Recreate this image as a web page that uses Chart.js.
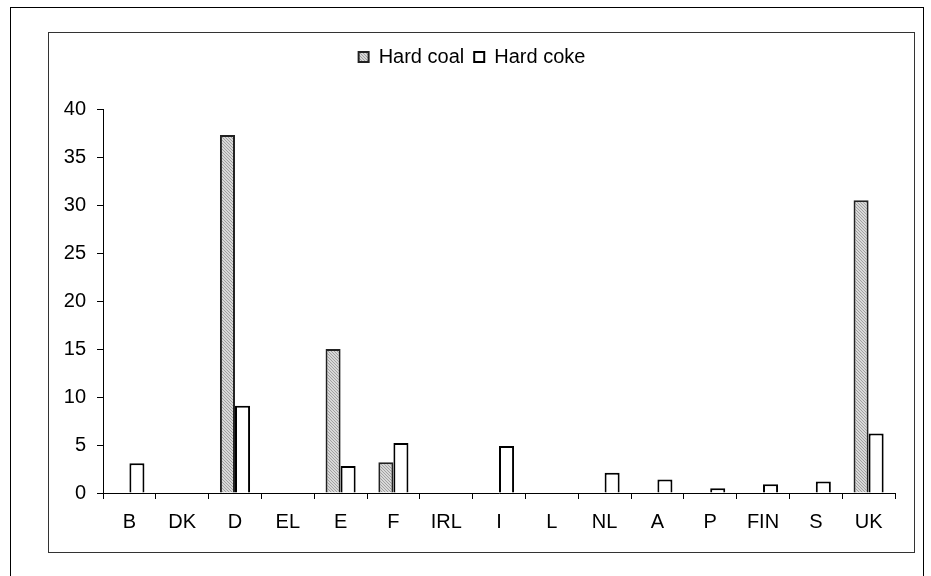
<!DOCTYPE html>
<html>
<head>
<meta charset="utf-8">
<script src="https://cdn.jsdelivr.net/npm/chart.js@4/dist/chart.umd.min.js"></script>
<style>
  html, body { margin: 0; padding: 0; background: #fff; }
  #outer { position: absolute; left: 10px; top: 7px; width: 914px; height: 580px; border: 1px solid #000; box-sizing: border-box; }
  #inner { position: absolute; left: 48px; top: 32px; width: 867px; height: 521px; border: 1px solid #333; box-sizing: border-box; }
  #chart-box { position: absolute; left: 0; top: 0; width: 865px; height: 519px; }
</style>
</head>
<body>
<div id="outer"></div>
<div id="inner"><div id="chart-box"><canvas id="coal-chart"></canvas></div></div>
<script>
const countries = ['B', 'DK', 'D', 'EL', 'E', 'F', 'IRL', 'I', 'L', 'NL', 'A', 'P', 'FIN', 'S', 'UK']
const hardCoal = [null, null, 37.3, null, 15.0, 3.2, null, null, null, null, null, null, null, null, 30.5]
const hardCoke = [3.1, null, 9.1, null, 2.8, 5.2, null, 4.9, null, 2.1, 1.4, 0.5, 0.9, 1.2, 6.2]
const yTicks = [0, 5, 10, 15, 20, 25, 30, 35, 40]

// fine diagonal hatch used by the hard coal bars
function hatch() {
  const c = document.createElement('canvas')
  c.width = 3
  c.height = 3
  const g = c.getContext('2d')
  g.fillStyle = '#d8d8d8'
  g.fillRect(0, 0, 3, 3)
  g.fillStyle = '#a0a0a0'
  for (let i = 0; i < 3; i++) g.fillRect(i, i, 1, 1)
  return g.createPattern(c, 'repeat')
}

// leave a gap between the legend and the top of the plot
const legendGap = {
  id: 'legendGap',
  afterInit(chart) {
    const lg = chart.legend
    const fit = lg.fit.bind(lg)
    lg.fit = function () { fit(); this.height += 32 }
  }
}

const ctx = document.querySelector('#coal-chart').getContext('2d')
const fontSpec = { family: '"Liberation Sans", Arial, sans-serif', size: 20 }

new Chart(ctx, {
  type: 'bar',
  data: {
    labels: countries,
    datasets: [
      {
        label: 'Hard coal',
        data: hardCoal,
        backgroundColor: hatch(),
        borderColor: '#222',
        borderWidth: 2,
        categoryPercentage: 0.57,
        barPercentage: 1
      },
      {
        label: 'Hard coke',
        data: hardCoke,
        backgroundColor: '#fff',
        borderColor: '#000',
        borderWidth: 2,
        categoryPercentage: 0.57,
        barPercentage: 1
      }
    ]
  },
  options: {
    responsive: true,
    maintainAspectRatio: false,
    animation: false,
    layout: { padding: { top: 4, right: 19, left: 0, bottom: 0 } },
    plugins: {
      tooltip: { enabled: false },
      legend: {
        position: 'top',
        labels: {
          boxWidth: 10,
          boxHeight: 10,
          padding: 10,
          color: '#000',
          font: fontSpec
        }
      }
    },
    scales: {
      x: {
        offset: true,
        grid: { offset: true, drawOnChartArea: false, tickLength: 6, color: '#000' },
        border: { color: '#000', width: 1 },
        ticks: { color: '#000', font: fontSpec, padding: 11 },
        afterFit: s => { s.height = 59 }
      },
      y: {
        min: 0,
        max: 40,
        afterBuildTicks: s => { s.ticks = yTicks.map(v => ({ value: v })) },
        grid: { drawOnChartArea: false, tickLength: 6, color: '#000' },
        border: { color: '#000', width: 1 },
        ticks: { color: '#000', font: fontSpec, padding: 11 },
        afterFit: s => { s.width = 54 }
      }
    }
  },
  plugins: [legendGap]
})
</script>
</body>
</html>
